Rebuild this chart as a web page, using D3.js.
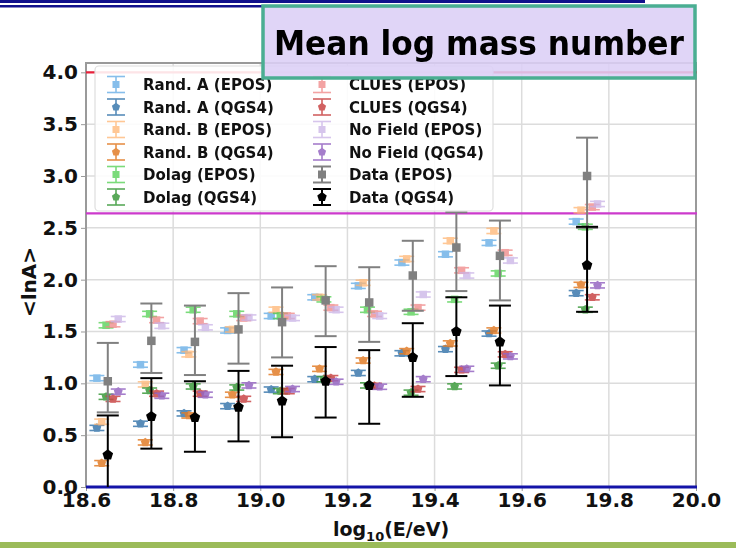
<!DOCTYPE html>
<html>
<head>
<meta charset="utf-8">
<script src="https://cdn.jsdelivr.net/npm/d3@7"></script>
<style>
  body { margin: 0; background: #fff; }
  #graf { width: 736px; height: 548px; }
  text { font-family: "DejaVu Sans", sans-serif; font-weight: bold; }
</style>
</head>
<body>
<div id="graf"></div>
<script>
// energy bins (log10 E/eV)
const bins = [18.65, 18.75, 18.85, 18.95, 19.05, 19.15, 19.25, 19.35, 19.45, 19.55, 19.75]

// simulations, <lnA> per bin
const randA_EPOS = [1.05, 1.18, 1.32, 1.51, 1.65, 1.83, 1.94, 2.165, 2.245, 2.355, 2.56]
const randA_QGS4 = [0.57, 0.61, 0.71, 0.78, 0.94, 1.04, 1.1, 1.29, 1.33, 1.48, 1.87]
const randB_EPOS = [0.63, 0.99, 1.28, 1.52, 1.71, 1.83, 1.97, 2.2, 2.375, 2.47, 2.67]
const randB_QGS4 = [0.23, 0.43, 0.69, 0.89, 1.11, 1.14, 1.22, 1.31, 1.385, 1.51, 1.95]
const dolag_EPOS = [1.56, 1.67, 1.71, 1.67, 1.65, 1.81, 1.71, 1.69, 1.81, 2.06, 2.51]
const dolag_QGS4 = [0.87, 0.93, 0.97, 0.96, 0.925, 1.04, 0.98, 0.91, 0.97, 1.17, 1.71]
const clues_EPOS = [1.57, 1.61, 1.6, 1.63, 1.65, 1.73, 1.67, 1.73, 2.09, 2.26, 2.7]
const clues_QGS4 = [0.85, 0.9, 0.9, 0.85, 0.925, 1.05, 0.975, 0.945, 1.13, 1.28, 1.83]
const noField_EPOS = [1.62, 1.555, 1.54, 1.635, 1.63, 1.71, 1.65, 1.857, 2.04, 2.185, 2.73]
const noField_QGS4 = [0.92, 0.88, 0.89, 0.98, 0.945, 1.015, 0.967, 1.04, 1.14, 1.26, 1.945]
const simErr = 0.025

// data
const data_EPOS = [1.02, 1.41, 1.4, 1.52, 1.59, 1.8, 1.78, 2.04, 2.31, 2.23, 3.0]
const data_EPOS_lo = [0.72, 1.1, 1.08, 1.19, 1.25, 1.455, 1.4, 1.7, 1.89, 1.8, 2.5]
const data_EPOS_hi = [1.39, 1.77, 1.75, 1.87, 1.925, 2.13, 2.12, 2.375, 2.65, 2.57, 3.37]
const data_QGS4 = [0.31, 0.68, 0.67, 0.77, 0.83, 1.02, 0.98, 1.25, 1.5, 1.4, 2.14]
const data_QGS4_lo = [-0.1, 0.37, 0.34, 0.44, 0.48, 0.67, 0.61, 0.87, 1.07, 0.98, 1.69]
const data_QGS4_hi = [0.69, 1.05, 1.02, 1.12, 1.17, 1.35, 1.32, 1.58, 1.83, 1.75, 2.51]

// horizontal offset of each model inside a bin
const offsets = { randA: -0.025, randB: -0.014, dolag: -0.004, data: 0, clues: 0.012, noField: 0.024 }

const xTicks = [18.6, 18.8, 19.0, 19.2, 19.4, 19.6, 19.8, 20.0]
const yTicks = [0, 0.5, 1, 1.5, 2, 2.5, 3, 3.5, 4]
const refLines = [{ v: 4.0, color: "#e8203a" }, { v: 2.64, color: "#cc3acc" }]

const title = "Mean log mass number"

const series = [
  { name: "Rand. A (EPOS)", v: randA_EPOS, dx: offsets.randA, color: "#5ea9e4", shape: "sq" },
  { name: "Rand. A (QGS4)", v: randA_QGS4, dx: offsets.randA, color: "#3a78ad", shape: "pent" },
  { name: "Rand. B (EPOS)", v: randB_EPOS, dx: offsets.randB, color: "#ffb572", shape: "sq" },
  { name: "Rand. B (QGS4)", v: randB_QGS4, dx: offsets.randB, color: "#e27d28", shape: "pent" },
  { name: "Dolag (EPOS)", v: dolag_EPOS, dx: offsets.dolag, color: "#4fcf4f", shape: "sq" },
  { name: "Dolag (QGS4)", v: dolag_QGS4, dx: offsets.dolag, color: "#3c9a3c", shape: "pent" },
  { name: "CLUES (EPOS)", v: clues_EPOS, dx: offsets.clues, color: "#ef8585", shape: "sq" },
  { name: "CLUES (QGS4)", v: clues_QGS4, dx: offsets.clues, color: "#c94646", shape: "pent" },
  { name: "No Field (EPOS)", v: noField_EPOS, dx: offsets.noField, color: "#c9b2e6", shape: "sq" },
  { name: "No Field (QGS4)", v: noField_QGS4, dx: offsets.noField, color: "#9566c2", shape: "pent" },
]
const dataSeries = [
  { name: "Data (EPOS)", v: data_EPOS, lo: data_EPOS_lo, hi: data_EPOS_hi, color: "#808080", shape: "sq" },
  { name: "Data (QGS4)", v: data_QGS4, lo: data_QGS4_lo, hi: data_QGS4_hi, color: "#000", shape: "pent" },
]

const draw = () => {
  const graf = d3.select("#graf")
  const W = 736, H = 548
  const left = 86, right = 696, top = 63, bottom = 487

  const x = d3.scaleLinear().domain([18.6, 20.0]).range([left, right])
  const y = d3.scaleLinear().domain([0, 4.09]).range([bottom, top])

  const svg = graf.append("svg").attr("width", W).attr("height", H)

  // decoration of slide
  svg.append("rect").attr("x", 0).attr("y", 0).attr("width", 645).attr("height", 3).attr("fill", "#10108c")
  svg.append("rect").attr("x", 0).attr("y", 5).attr("width", 645).attr("height", 2.5).attr("fill", "#10108c")
  svg.append("rect").attr("x", 0).attr("y", 542).attr("width", W).attr("height", 6).attr("fill", "#9bbb59")

  svg.append("clipPath").attr("id", "clip")
    .append("rect").attr("x", left).attr("y", top).attr("width", right - left).attr("height", bottom - top)

  // grid
  const grid = svg.append("g")
  grid.selectAll("line.gx").data(xTicks).join("line")
    .attr("x1", (d) => x(d)).attr("x2", (d) => x(d)).attr("y1", top).attr("y2", bottom)
    .attr("stroke", "#dcdcdc").attr("stroke-width", 1.5)
  grid.selectAll("line.gy").data(yTicks).join("line")
    .attr("y1", (d) => y(d)).attr("y2", (d) => y(d)).attr("x1", left).attr("x2", right)
    .attr("stroke", "#dcdcdc").attr("stroke-width", 1.5)

  // axes
  const yAxis = d3.axisLeft(y).tickValues(yTicks).tickFormat(d3.format(".1f")).tickSize(5).tickPadding(3)
  const yg = svg.append("g").attr("transform", `translate(${left},0)`).call(yAxis)
  yg.select(".domain").remove()
  yg.selectAll(".tick line").attr("stroke", "#999")
  yg.selectAll(".tick text").attr("font-size", 20).attr("font-family", "DejaVu Sans").attr("font-weight", "bold").attr("fill", "#111")

  const xAxis = d3.axisBottom(x).tickValues(xTicks).tickFormat(d3.format(".1f")).tickSize(4).tickPadding(2)
  const xg = svg.append("g").attr("transform", `translate(0,${bottom})`).call(xAxis)
  xg.select(".domain").remove()
  xg.selectAll(".tick line").attr("stroke", "#999")
  xg.selectAll(".tick text").attr("font-size", 20).attr("font-family", "DejaVu Sans").attr("font-weight", "bold").attr("fill", "#111")

  svg.append("text").attr("transform", `translate(36,282) rotate(-90)`)
    .attr("text-anchor", "middle").attr("font-size", 20).attr("fill", "#111").text("<lnA>")

  const xl = svg.append("text").attr("x", (left + right) / 2).attr("y", 536)
    .attr("text-anchor", "middle").attr("font-size", 19).attr("fill", "#111")
  xl.append("tspan").text("log")
  xl.append("tspan").attr("font-size", 13).attr("dy", 5).text("10")
  xl.append("tspan").attr("dy", -5).text("(E/eV)")

  // frame
  svg.append("rect").attr("x", left).attr("y", top).attr("width", right - left).attr("height", bottom - top)
    .attr("fill", "none").attr("stroke", "#9a9a9a").attr("stroke-width", 2)

  // reference lines
  svg.selectAll("line.ref").data(refLines).join("line")
    .attr("x1", left).attr("x2", right + 1).attr("y1", (d) => y(d.v)).attr("y2", (d) => y(d.v))
    .attr("stroke", (d) => d.color).attr("stroke-width", 2.2)
  svg.append("line").attr("x1", left).attr("x2", right + 1).attr("y1", y(0)).attr("y2", y(0))
    .attr("stroke", "#1414a8").attr("stroke-width", 3)

  const pent = (r) => {
    const pts = d3.range(5).map((k) => {
      const a = -Math.PI / 2 + (k * 2 * Math.PI) / 5
      return [r * Math.cos(a), r * Math.sin(a)]
    })
    return "M" + pts.map((p) => p.join(",")).join("L") + "Z"
  }
  const marker = (g, shape, color, size) => {
    if (shape === "sq") {
      g.append("rect").attr("x", -size / 2).attr("y", -size / 2).attr("width", size).attr("height", size).attr("fill", color)
    } else {
      g.append("path").attr("d", pent(size * 0.62)).attr("fill", color)
    }
  }
  const errBar = (g, y0, y1, cap, color, w) => {
    g.append("line").attr("x1", 0).attr("x2", 0).attr("y1", y0).attr("y2", y1).attr("stroke", color).attr("stroke-width", w)
    ;[y0, y1].forEach((yy) =>
      g.append("line").attr("x1", -cap).attr("x2", cap).attr("y1", yy).attr("y2", yy).attr("stroke", color).attr("stroke-width", w)
    )
  }

  const plot = svg.append("g").attr("clip-path", "url(#clip)")

  // simulations
  series.forEach((s) => {
    const sg = plot.append("g").attr("opacity", s.shape === "sq" ? 0.75 : 0.85)
    s.v.forEach((v, i) => {
      const g = sg.append("g").attr("transform", `translate(${x(bins[i] + s.dx)},${y(v)})`)
      errBar(g, y(v - simErr) - y(v), y(v + simErr) - y(v), 7.5, s.color, 1.6)
      marker(g, s.shape, s.color, 7.5)
    })
  })

  // data
  dataSeries.forEach((s) => {
    s.v.forEach((v, i) => {
      const g = plot.append("g").attr("transform", `translate(${x(bins[i] + offsets.data)},${y(v)})`)
      errBar(g, y(s.lo[i]) - y(v), y(s.hi[i]) - y(v), 11, s.color, 2)
      marker(g, s.shape, s.color, s.shape === "sq" ? 8.5 : 9)
    })
  })

  // legend
  const leg = svg.append("g")
  leg.append("rect").attr("x", 95).attr("y", 66).attr("width", 398).attr("height", 145).attr("rx", 4)
    .attr("fill", "#fff").attr("fill-opacity", 0.88).attr("stroke", "#dedede").attr("stroke-width", 1.2)
  const all = series.concat(dataSeries)
  all.forEach((s, i) => {
    const col = Math.floor(i / 6), row = i % 6
    const lx = col === 0 ? 116 : 322
    const ly = 84.5 + row * 22.5
    const g = leg.append("g").attr("transform", `translate(${lx},${ly})`)
    const isData = i >= 10
    const gm = g.append("g").attr("opacity", isData ? 1 : s.shape === "sq" ? 0.75 : 0.85)
    errBar(gm, -8, 8, 9, s.color, isData ? 2 : 1.6)
    marker(gm, s.shape, s.color, isData ? 8 : 7)
    g.append("text").attr("x", 27).attr("y", 5.5).attr("font-size", 15).attr("fill", "#111").text(s.name)
  })

  // title box
  svg.append("rect").attr("x", 263).attr("y", 6).attr("width", 432).attr("height", 72)
    .attr("fill", "#dccff6").attr("fill-opacity", 0.88).attr("stroke", "#4aae92").attr("stroke-width", 3.5)
  svg.append("text").attr("x", 479).attr("y", 55).attr("text-anchor", "middle")
    .attr("font-family", "Lato, 'Open Sans', sans-serif").attr("font-size", 34).attr("fill", "#000")
    .attr("textLength", 410).attr("lengthAdjust", "spacingAndGlyphs")
    .text(title)
}

draw()
</script>
</body>
</html>
